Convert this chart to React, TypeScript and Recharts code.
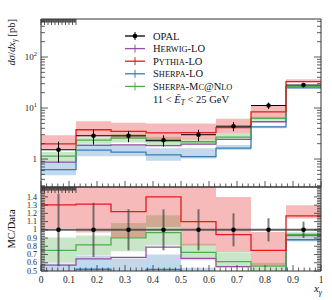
import React from "react";
import { ComposedChart, Line, Area, Scatter, ErrorBar, XAxis, YAxis, Legend, Label } from "recharts";

// bins in x_gamma
const binEdges = [0, 0.125, 0.25, 0.375, 0.5, 0.625, 0.75, 0.875, 1];
const binCenters = [0.0625, 0.1875, 0.3125, 0.4375, 0.5625, 0.6875, 0.8125, 0.9375];

// OPAL data [pb]
const opal = [1.52, 2.86, 2.85, 2.33, 3.0, 4.4, 11.2, 28.2];
const opalErr = [0.67, 0.94, 0.71, 0.58, 0.75, 0.88, 1.57, 2.8];

// MC predictions [pb]
const herwig = [0.87, 1.85, 1.9, 1.84, 1.96, 2.43, 5.38, 26.2];
const pythia = [1.98, 3.75, 3.48, 3.26, 3.3, 4.14, 8.4, 33.0];
const pythiaLo = [1.55, 2.77, 2.59, 2.4, 2.43, 3.21, 6.33, 32.1];
const pythiaHi = [2.92, 5.49, 5.13, 5.0, 5.0, 6.16, 10.9, 36.6];
const sherpa = [0.62, 1.49, 1.37, 1.21, 1.11, 1.63, 4.26, 24.8];
const sherpaLo = [0.48, 1.14, 1.14, 0.93, 1.03, 1.5, 4.0, 24.2];
const sherpaHi = [0.9, 1.97, 1.86, 1.63, 1.62, 1.88, 4.5, 25.7];
const mcnlo = [1.14, 2.34, 2.57, 2.25, 2.18, 2.7, 6.27, 26.6];
const mcnloLo = [0.91, 1.99, 2.11, 1.89, 1.89, 2.39, 5.6, 25.7];
const mcnloHi = [1.38, 2.66, 3.09, 2.74, 2.49, 3.2, 6.72, 27.4];

// ticks
const xMajorTicks = [0, 0.1, 0.2, 0.3, 0.4, 0.5, 0.6, 0.7, 0.8, 0.9, 1];
const mainMajorTicks = [1, 10, 100];
const ratioMajorTicks = [0.5, 0.6, 0.7, 0.8, 0.9, 1, 1.1, 1.2, 1.3, 1.4];

const legendNames = ["OPAL", "Herwig-LO", "Pythia-LO", "Sherpa-LO", "Sherpa-Mc@Nlo"];
const legendColors = ["#000000", "#984ea3", "#e41a1c", "#377eb8", "#4daf4a"];

const mainDomain = [0.283, 556];
const ratioDomain = [0.5, 1.52];

const xTicks = Array.from({ length: 51 }, (_, i) => i / 50);
const mainTicks = [0.1, 1, 10, 100]
  .flatMap((d) => [1, 2, 3, 4, 5, 6, 7, 8, 9].map((m) => m * d))
  .filter((v) => v >= mainDomain[0] && v <= mainDomain[1]);
const ratioTicks = Array.from({ length: 52 }, (_, i) => 0.5 + i * 0.02).filter((v) => v <= ratioDomain[1] + 1e-9);

const font = "'Liberation Serif', 'DejaVu Serif', serif";
const axisColor = "#333";
const [cOpal, cHerwig, cPythia, cSherpa, cMcnlo] = legendColors;

const rowsFrom = (norm: number[]) =>
  binEdges.map((x, k) => {
    const i = Math.min(k, opal.length - 1);
    const n = norm[i];
    return {
      x,
      herwig: herwig[i] / n,
      pythia: pythia[i] / n,
      sherpa: sherpa[i] / n,
      mcnlo: mcnlo[i] / n,
      pythiaBand: [pythiaLo[i] / n, pythiaHi[i] / n],
      sherpaBand: [sherpaLo[i] / n, sherpaHi[i] / n],
      mcnloBand: [mcnloLo[i] / n, mcnloHi[i] / n],
    };
  });

const pointsFrom = (norm: number[]) =>
  binCenters.map((x, i) => ({
    x,
    y: opal[i] / norm[i],
    err: opalErr[i] / norm[i],
    xErr: (binEdges[i + 1] - binEdges[i]) / 2,
  }));

const ones = opal.map(() => 1);
const mainRows = rowsFrom(ones);
const ratioRows = rowsFrom(opal);
const mainPoints = pointsFrom(ones);
const ratioPoints = pointsFrom(opal);

const near = (list: number[], v: number) => list.some((t) => Math.abs(t - v) < 1e-6);

const fmtX = (v: number) => (v === 0 ? "0" : Math.abs(v - 1) < 1e-6 ? "1" : v.toFixed(1));

function xTick(dir: number, withLabel: boolean) {
  return (p: any) => {
    const v = p.payload.value;
    const major = near(xMajorTicks, v);
    const len = major ? 6 : 3.5;
    return (
      <g>
        <line x1={p.x} x2={p.x} y1={p.y} y2={p.y + dir * len} stroke={axisColor} strokeWidth={0.8} />
        {withLabel && major && (
          <text x={p.x} y={p.y + 12} textAnchor="middle" fontSize={9.5} fontFamily={font} fill="#222">
            {fmtX(v)}
          </text>
        )}
      </g>
    );
  };
}

function yTick(dir: number, majors: number[], label?: (v: number) => React.ReactNode, size = 9) {
  return (p: any) => {
    const v = p.payload.value;
    const major = near(majors, v);
    const len = major ? 7 : 4;
    return (
      <g>
        <line x1={p.x} x2={p.x + dir * len} y1={p.y} y2={p.y} stroke={axisColor} strokeWidth={0.8} />
        {label && major && (
          <text x={p.x - 4} y={p.y + size / 3} textAnchor="end" fontSize={size} fontFamily={font} fill="#222">
            {label(v)}
          </text>
        )}
      </g>
    );
  };
}

const mainLabel = (v: number) =>
  v === 1 ? (
    "1"
  ) : (
    <>
      10
      <tspan dy={-4} fontSize={6.5}>
        {Math.round(Math.log10(v))}
      </tspan>
    </>
  );

const ratioLabel = (v: number) => (Math.abs(v - 1) < 1e-6 ? "1" : v.toFixed(1));

// fake small caps: lower-case runs drawn as smaller capitals
function smallCaps(s: string, size: number) {
  const parts = s.match(/[a-z]+|[^a-z]+/g) || [];
  return parts.map((t, i) =>
    /[a-z]/.test(t) ? (
      <tspan key={i} fontSize={size * 0.8}>
        {t.toUpperCase()}
      </tspan>
    ) : (
      <tspan key={i} fontSize={size}>
        {t}
      </tspan>
    )
  );
}

function series(ratio: boolean) {
  const ax = { xAxisId: "b", yAxisId: "l" };
  const lw = 1.3;
  return [
    <Area key="sb" {...ax} type="stepAfter" dataKey="sherpaBand" stroke="none" fill={cSherpa} fillOpacity={0.3} isAnimationActive={false} />,
    <Area key="mb" {...ax} type="stepAfter" dataKey="mcnloBand" stroke="none" fill={cMcnlo} fillOpacity={0.3} isAnimationActive={false} />,
    <Area key="pb" {...ax} type="stepAfter" dataKey="pythiaBand" stroke="none" fill={cPythia} fillOpacity={0.3} isAnimationActive={false} />,
    <Line key="h" {...ax} type="stepAfter" dataKey="herwig" stroke={cHerwig} strokeWidth={lw} dot={false} isAnimationActive={false} />,
    <Line key="s" {...ax} type="stepAfter" dataKey="sherpa" stroke={cSherpa} strokeWidth={lw} dot={false} isAnimationActive={false} />,
    <Line key="m" {...ax} type="stepAfter" dataKey="mcnlo" stroke={cMcnlo} strokeWidth={lw} dot={false} isAnimationActive={false} />,
    <Line key="p" {...ax} type="stepAfter" dataKey="pythia" stroke={cPythia} strokeWidth={lw} dot={false} isAnimationActive={false} />,
    <Scatter
      key="d"
      {...ax}
      data={ratio ? ratioPoints : mainPoints}
      dataKey="y"
      isAnimationActive={false}
      shape={(p: any) => <circle cx={p.cx} cy={p.cy} r={2.3} fill={cOpal} />}
    >
      <ErrorBar dataKey="xErr" direction="x" width={0} stroke={ratio ? "#444" : cOpal} strokeWidth={ratio ? 2 : 1} strokeOpacity={ratio ? 0.85 : 1} />
      <ErrorBar dataKey="err" direction="y" width={0} stroke={ratio ? "#444" : cOpal} strokeWidth={ratio ? 2 : 1} strokeOpacity={ratio ? 0.7 : 1} />
    </Scatter>,
  ];
}

function LegendBox() {
  const y0 = 36;
  const dy = 12.6;
  const fs = 10.5;
  return (
    <svg width={332} height={110} style={{ position: "absolute", left: 0, top: 0 }}>
      {legendNames.map((name, i) => {
        const y = y0 + dy * i;
        return (
          <g key={name}>
            <line x1={125} x2={145} y1={y} y2={y} stroke={legendColors[i]} strokeWidth={1.3} />
            <line x1={135} x2={135} y1={y - 4} y2={y + 4} stroke={legendColors[i]} strokeWidth={1} />
            {i === 0 && <circle cx={135} cy={y} r={2.3} fill={cOpal} />}
            <text x={153} y={y + 3.5} fontSize={fs} fontFamily={font} fill="#111">
              {i === 0 ? name : smallCaps(name, fs)}
            </text>
          </g>
        );
      })}
      <text x={153} y={y0 + dy * 5 + 3.5} fontSize={fs} fontFamily={font} fill="#111">
        {"11 < "}
        <tspan fontStyle="italic">Ē</tspan>
        <tspan dy={2} fontSize={7.5} fontStyle="italic">
          T
        </tspan>
        <tspan dy={-2}>{" < 25 GeV"}</tspan>
      </text>
    </svg>
  );
}

export default function App() {
  return (
    <div style={{ position: "absolute", left: 0, top: 0, width: 332, height: 300, background: "#fff" }}>
      <div style={{ position: "absolute", left: 0, top: 0 }}>
        <ComposedChart width={332} height={188} data={mainRows} margin={{ top: 18, right: 10, bottom: 0, left: 0 }}>
          <XAxis
            xAxisId="b"
            dataKey="x"
            type="number"
            domain={[0, 1]}
            allowDataOverflow
            ticks={xTicks}
            interval={0}
            height={1}
            tickSize={0}
            tickMargin={0}
            tickLine={false}
            axisLine={{ stroke: axisColor }}
            tick={xTick(-1, false)}
          />
          <XAxis
            xAxisId="t"
            orientation="top"
            type="number"
            domain={[0, 1]}
            allowDataOverflow
            ticks={xTicks}
            interval={0}
            height={1}
            tickSize={0}
            tickMargin={0}
            tickLine={false}
            axisLine={{ stroke: axisColor }}
            tick={xTick(1, false)}
          />
          <YAxis
            yAxisId="l"
            scale="log"
            type="number"
            domain={mainDomain}
            allowDataOverflow
            ticks={mainTicks}
            interval={0}
            width={41}
            tickSize={0}
            tickMargin={0}
            tickLine={false}
            axisLine={{ stroke: axisColor }}
            tick={yTick(1, mainMajorTicks, mainLabel)}
          >
            <Label
              content={() => (
                <text
                  x={15}
                  y={19}
                  transform="rotate(-90 15 19)"
                  textAnchor="end"
                  fontSize={10.5}
                  fontFamily={font}
                  fill="#111"
                >
                  <tspan fontStyle="italic">dσ</tspan>/<tspan fontStyle="italic">dx</tspan>
                  <tspan dy={2} fontSize={7.5} fontStyle="italic">γ</tspan>
                  <tspan dy={-2}> [pb]</tspan>
                </text>
              )}
            />
          </YAxis>
          <YAxis
            yAxisId="r"
            orientation="right"
            scale="log"
            type="number"
            domain={mainDomain}
            allowDataOverflow
            ticks={mainTicks}
            interval={0}
            width={1}
            tickSize={0}
            tickMargin={0}
            tickLine={false}
            axisLine={{ stroke: axisColor }}
            tick={yTick(-1, mainMajorTicks)}
          />
          {series(false)}
          <Legend
            layout="horizontal"
            verticalAlign="middle"
            align="center"
            wrapperStyle={{ left: 0, top: 0, width: 332, height: 110, pointerEvents: "none" }}
            content={() => <LegendBox />}
          />
        </ComposedChart>
      </div>
      <div style={{ position: "absolute", left: 0, top: 186 }}>
        <ComposedChart width={332} height={114} data={ratioRows} margin={{ top: 0, right: 10, bottom: 0, left: 0 }}>
          <XAxis
            xAxisId="b"
            dataKey="x"
            type="number"
            domain={[0, 1]}
            allowDataOverflow
            ticks={xTicks}
            interval={0}
            height={29}
            tickSize={0}
            tickMargin={0}
            tickLine={false}
            axisLine={{ stroke: axisColor }}
            tick={xTick(-1, true)}
          />
          <XAxis
            xAxisId="t"
            orientation="top"
            type="number"
            domain={[0, 1]}
            allowDataOverflow
            ticks={xTicks}
            interval={0}
            height={1}
            tickSize={0}
            tickMargin={0}
            tickLine={false}
            axisLine={{ stroke: axisColor }}
            tick={xTick(1, false)}
          />
          <YAxis
            yAxisId="l"
            type="number"
            domain={ratioDomain}
            allowDataOverflow
            ticks={ratioTicks}
            interval={0}
            width={41}
            tickSize={0}
            tickMargin={0}
            tickLine={false}
            axisLine={{ stroke: axisColor }}
            tick={yTick(1, ratioMajorTicks, ratioLabel, 8)}
          >
            <Label
              content={() => (
                <text
                  x={15}
                  y={43}
                  transform="rotate(-90 15 43)"
                  textAnchor="middle"
                  fontSize={10.5}
                  fontFamily={font}
                  fill="#111"
                >
                  MC/Data
                </text>
              )}
            />
          </YAxis>
          <YAxis
            yAxisId="r"
            orientation="right"
            type="number"
            domain={ratioDomain}
            allowDataOverflow
            ticks={ratioTicks}
            interval={0}
            width={1}
            tickSize={0}
            tickMargin={0}
            tickLine={false}
            axisLine={{ stroke: axisColor }}
            tick={yTick(-1, ratioMajorTicks)}
          />
          {series(true)}
        </ComposedChart>
      </div>
      <svg width={332} height={300} style={{ position: "absolute", left: 0, top: 0, pointerEvents: "none" }}>
        <text x={322} y={292} textAnchor="end" fontSize={11} fontFamily={font} fill="#111">
          <tspan fontStyle="italic">x</tspan>
          <tspan dy={2.5} fontSize={8} fontStyle="italic">
            γ
          </tspan>
        </text>
      </svg>
    </div>
  );
}
